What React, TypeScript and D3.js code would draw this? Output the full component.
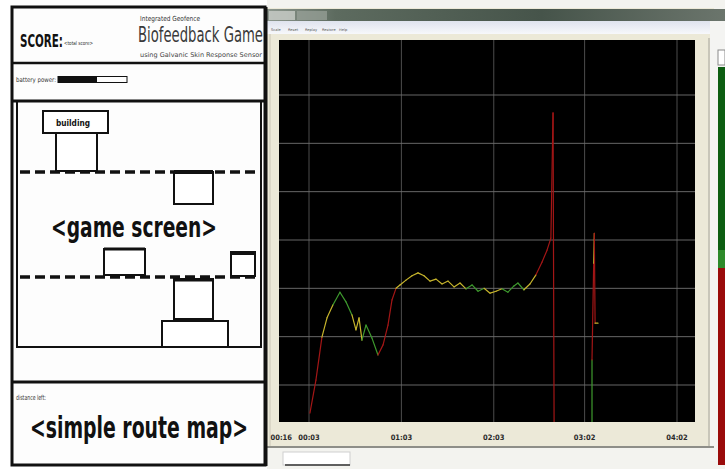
import React from "react";
import * as d3 from "d3";

// ---- signal data (seconds, amplitude, zone) ----
const times = [3.6, 7.5, 11.4, 14.7, 18.6, 23.1, 27, 30.9, 33.5, 35.5, 37.4, 40, 43.9, 47.8, 51.1, 54.3, 56.9, 59.5,
  62.1, 66, 69.9, 73.8, 77.7, 81.6, 85.5, 89.4, 93.3, 97.2, 101.1, 105, 108.9, 112.8, 116.7, 120.6, 124.5, 128.3,
  132.2, 136.1, 138.7, 142.6, 146.5, 150.4, 154.3, 157.6, 160.1, 161.5, 162.2,
  186.8, 186.8, 187.9, 188.3, 188.8, 190.7];
const values = [4.2, 11, 19.9, 23.9, 26.6, 29.2, 27.2, 24.5, 21.4, 23.9, 19.3, 22.4, 19.7, 16.2, 18.3, 22.4, 27.6, 30,
  30.7, 31.7, 32.6, 33.2, 32.6, 31.5, 31.9, 30.9, 31.5, 30.3, 31.1, 29.9, 30.7, 29.4, 30, 29, 29.4, 29.9,
  29.2, 30.5, 31.1, 29.7, 30.9, 32.8, 35.4, 37.9, 40.4, 66.3, 0,
  0, 15.2, 35.2, 41.4, 22.8, 22.8];
const zones = ["high", "high", "high", "mid", "mid", "low", "low", "low", "mid", "mid", "mid", "low", "low", "low", "high", "high", "high", "high",
  "mid", "mid", "mid", "mid", "mid", "mid", "mid", "mid", "mid", "mid", "mid", "mid", "low", "low", "low", "mid", "mid", "mid",
  "low", "low", "low", "low", "mid", "mid", "high", "high", "high", "high", "high",
  "low", "low", "high", "mid", "high", "mid"];

const tickTimes = [-15, 3, 63, 123, 182, 242];
const tickLabels = ["00:16", "00:03", "01:03", "02:03", "03:02", "04:02"];
const gridTimes = [3, 63, 123, 182, 242];
const gridValues = [10, 20, 30, 40, 50, 60, 70];
const menuItems = ["Scale", "Reset", "Replay", "Restore", "Help"];

const narrow = "'Liberation Sans Narrow', 'DejaVu Sans Condensed', sans-serif";
const small = "'DejaVu Sans', sans-serif";

function GamePanel() {
  const dash = "10 5";
  return (
    <g>
      <rect x={0} y={0} width={267} height={469} fill="#fff" />
      <rect x={12} y={7} width={253} height={458} fill="#fdfdfd" stroke="#111" strokeWidth={3} />
      {/* header */}
      <text x={20} y={47} fontFamily={narrow} fontWeight="bold" fontSize={18} textLength={43} lengthAdjust="spacingAndGlyphs" fill="#111">SCORE:</text>
      <text x={64} y={45} fontFamily={small} fontSize={5.5} textLength={29} lengthAdjust="spacingAndGlyphs" fill="#333">&lt;total score&gt;</text>
      <text x={140} y={21} fontFamily={small} fontSize={7} textLength={60} lengthAdjust="spacingAndGlyphs" fill="#333">Integrated Geofence</text>
      <text x={138} y={42} fontFamily={narrow} fontSize={22} textLength={125} lengthAdjust="spacingAndGlyphs" fill="#3a3a3a">Biofeedback Game</text>
      <text x={140} y={57} fontFamily={small} fontSize={6.5} textLength={122} lengthAdjust="spacingAndGlyphs" fill="#444">using Galvanic Skin Response Sensor</text>
      <line x1={12} x2={265} y1={63} y2={63} stroke="#111" strokeWidth={2.5} />
      {/* battery */}
      <text x={16} y={82} fontFamily={small} fontSize={6.5} textLength={40} lengthAdjust="spacingAndGlyphs" fill="#333">battery power:</text>
      <rect x={58} y={76.5} width={69} height={6} fill="none" stroke="#111" strokeWidth={1} />
      <rect x={58} y={76.5} width={39} height={6} fill="#111" />
      <line x1={12} x2={265} y1={101} y2={101} stroke="#111" strokeWidth={3} />
      {/* game screen */}
      <rect x={17} y={101} width={244} height={246} fill="none" stroke="#111" strokeWidth={2} />
      <rect x={43} y={111} width={65} height={22} fill="#fff" stroke="#111" strokeWidth={2} />
      <text x={73} y={126} textAnchor="middle" fontFamily={narrow} fontWeight="bold" fontSize={9} textLength={34} lengthAdjust="spacingAndGlyphs" fill="#111">building</text>
      <rect x={56} y={133} width={41} height={38} fill="#fff" stroke="#111" strokeWidth={2} />
      <line x1={20} x2={260} y1={172} y2={172} stroke="#111" strokeWidth={3.5} strokeDasharray={dash} />
      <rect x={174} y={172} width={39} height={32} fill="#fff" stroke="#111" strokeWidth={2} />
      <line x1={174} x2={213} y1={172} y2={172} stroke="#111" strokeWidth={4} />
      <text x={134} y={237} textAnchor="middle" fontFamily={narrow} fontWeight="bold" fontSize={29} textLength={166} lengthAdjust="spacingAndGlyphs" fill="#111">&lt;game screen&gt;</text>
      <rect x={104} y={249} width={41} height={26} fill="#fff" stroke="#111" strokeWidth={2} />
      <line x1={104} x2={145} y1={249} y2={249} stroke="#111" strokeWidth={3} />
      <rect x={231} y={252} width={24} height={24} fill="#fff" stroke="#111" strokeWidth={2} />
      <line x1={231} x2={255} y1={253} y2={253} stroke="#111" strokeWidth={4} />
      <line x1={20} x2={260} y1={277} y2={277} stroke="#111" strokeWidth={3.5} strokeDasharray={dash} />
      <rect x={174} y={279} width={39} height={40} fill="#fff" stroke="#111" strokeWidth={2} />
      <line x1={174} x2={213} y1={280} y2={280} stroke="#111" strokeWidth={3} />
      <rect x={162} y={321} width={66} height={26} fill="#fff" stroke="#111" strokeWidth={2} />
      <line x1={12} x2={265} y1={382} y2={382} stroke="#111" strokeWidth={3} />
      {/* route map */}
      <text x={16} y={400} fontFamily={small} fontSize={7} textLength={30} lengthAdjust="spacingAndGlyphs" fill="#333">distance left:</text>
      <text x={139} y={438} textAnchor="middle" fontFamily={narrow} fontWeight="bold" fontSize={31} textLength={218} lengthAdjust="spacingAndGlyphs" fill="#111">&lt;simple route map&gt;</text>
    </g>
  );
}

function Scope() {
  const plot = { x0: 279, x1: 695, y0: 40, y1: 422 };
  const x = d3.scaleLinear().domain([3, 242]).range([309, 677]);
  const y = d3.scaleLinear().domain([10, 70]).range([385, 95]);
  const color = d3.scaleOrdinal<string, string>().domain(["high", "mid", "low"]).range(["#a31616", "#c7b52c", "#3e9a2e"]);
  const line = d3.line<[number, number]>().x(d => x(d[0])).y(d => y(d[1]));
  const segs = times.slice(1).map((t, i) => ({
    d: line([[times[i], values[i]], [t, values[i + 1]]]) as string,
    c: color(zones[i + 1]),
  }));
  return (
    <g>
      <defs>
        <linearGradient id="title" x1="0" x2="1" y1="0" y2="0">
          <stop offset="0" stopColor="#8d978e" />
          <stop offset="0.15" stopColor="#5d6b5f" />
          <stop offset="0.6" stopColor="#46544a" />
          <stop offset="1" stopColor="#6b756c" />
        </linearGradient>
        <linearGradient id="menu" x1="0" x2="0" y1="0" y2="1">
          <stop offset="0" stopColor="#dfe3ee" />
          <stop offset="1" stopColor="#f7f8fb" />
        </linearGradient>
        <clipPath id="plotclip">
          <rect x={plot.x0} y={plot.y0} width={plot.x1 - plot.x0} height={plot.y1 - plot.y0} />
        </clipPath>
      </defs>
      {/* window chrome */}
      <rect x={267} y={0} width={458} height={469} fill="#f3f3ef" />
      <rect x={267} y={8} width={447} height={440} fill="#ece9d8" />
      <rect x={267} y={9} width={458} height={12} fill="url(#title)" />
      <rect x={269} y={11} width={26} height={9} fill="#c9cdc8" opacity={0.8} />
      <rect x={297} y={11} width={30} height={9} fill="#9aa29a" opacity={0.7} />
      <rect x={267} y={21} width={447} height={13} fill="url(#menu)" />
      {menuItems.map((m, i) => (
        <text key={m} x={271 + i * 17} y={31} fontFamily={small} fontSize={3.6} fill="#555">{m}</text>
      ))}
      <line x1={270} x2={270} y1={34} y2={446} stroke="#c9c6b6" />
      {/* plot */}
      <rect x={plot.x0} y={plot.y0} width={plot.x1 - plot.x0} height={plot.y1 - plot.y0} fill="#000" />
      <g clipPath="url(#plotclip)">
        {gridValues.map(v => (
          <line key={v} x1={plot.x0} x2={plot.x1} y1={y(v)} y2={y(v)} stroke="#8a8a8a" strokeWidth={1} opacity={0.75} />
        ))}
        {gridTimes.map(t => (
          <line key={t} x1={x(t)} x2={x(t)} y1={plot.y0} y2={plot.y1} stroke="#6f6f6f" strokeWidth={1} opacity={0.7} />
        ))}
        {segs.map((s, i) => (
          <path key={i} d={s.d} fill="none" stroke={s.c} strokeWidth={1.2} strokeLinecap="round" />
        ))}
      </g>
      {/* x axis labels */}
      {tickTimes.map((t, i) => (
        <text key={t} x={x(t)} y={440} textAnchor="middle" fontFamily={narrow} fontWeight="bold" fontSize={7.5} fill="#2a2a2a">{tickLabels[i]}</text>
      ))}
      {/* right side */}
      <line x1={709} x2={709} y1={38} y2={447} stroke="#a5a39a" />
      <rect x={710} y={21} width={15} height={440} fill="#f4f4f2" />
      <rect x={718} y={50} width={7} height={15} fill="#fff" stroke="#8a8a8a" strokeWidth={1} />
      <rect x={718} y={67} width={7} height={201} fill="#0d5e12" />
      <rect x={718} y={250} width={7} height={18} fill="#2e8a2a" />
      <rect x={718} y={268} width={7} height={197} fill="#9a0b0b" />
      {/* bottom */}
      <rect x={267} y={446} width={447} height={2} fill="#8e8e88" />
      <rect x={283} y={452} width={67} height={13} fill="#fff" stroke="#cfcfcf" />
      <line x1={285} x2={350} y1={465} y2={465} stroke="#333" strokeWidth={1.5} />
    </g>
  );
}

export default function App() {
  return (
    <svg width={725} height={469} viewBox="0 0 725 469" style={{ position: "absolute", left: 0, top: 0, display: "block" }}>
      <rect width={725} height={469} fill="#fff" />
      <GamePanel />
      <Scope />
      <line x1={266} x2={266} y1={7} y2={466} stroke="#111" strokeWidth={3} />
    </svg>
  );
}
